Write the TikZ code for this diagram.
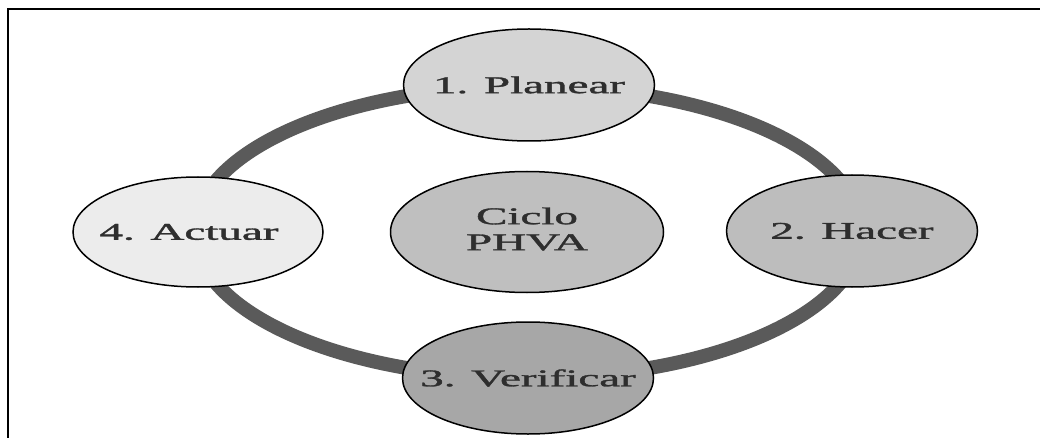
\documentclass[tikz,border=0pt]{standalone}
\usepackage{fontspec}
\setmainfont{Liberation Serif}
\newfontfamily\lblfont[FakeBold=1.2]{Liberation Serif}
\usetikzlibrary{shapes.geometric}
\definecolor{ringc}{HTML}{5A5A5A}
\definecolor{txtc}{HTML}{2E2E2E}
\definecolor{fillP}{HTML}{D4D4D4}
\definecolor{fillH}{HTML}{BDBDBD}
\definecolor{fillV}{HTML}{A7A7A7}
\definecolor{fillA}{HTML}{ECECEC}
\definecolor{fillC}{HTML}{BFBFBF}
\newcommand{\stretchtxt}[1]{\scalebox{1.96}[1]{#1}}
\begin{document}
\begin{tikzpicture}[x=1pt,y=-1pt,
  phase/.style={ellipse, draw=black, line width=1.5pt, inner sep=0pt,
    minimum width=251pt, minimum height=112pt},
  lbl/.style={text=txtc, inner sep=0pt, font=\lblfont\fontsize{24}{26}\selectfont},
  ring/.style={draw=ringc, line width=14pt},
  frame/.style={draw=black, line width=2pt}]
\useasboundingbox (0,0) rectangle (1040,438);
\fill[white] (0,0) rectangle (1040,438);
\coordinate (tl) at (8,9);
\coordinate (tr) at (1040,9);
\coordinate (bl) at (8,438);
\draw[frame] (tr) -- (tl) -- (bl);
\coordinate (c) at (528,232);
\draw[ring] (c) ellipse [x radius=333, y radius=146];
\node[phase, fill=fillP, label={[lbl]center:\stretchtxt{1. Planear}}] (plan) at (529,85) {};
\node[phase, fill=fillH, label={[lbl]center:\stretchtxt{2. Hacer}}] (hacer) at (852,231) {};
\node[phase, fill=fillV, label={[lbl]center:\stretchtxt{3. Verificar}}] (verif) at (528,378) {};
\node[phase, fill=fillA, minimum width=250pt, minimum height=110pt,
  label={[lbl, xshift=-9pt]center:\stretchtxt{4. Actuar}}] (act) at (198,232) {};
\node[phase, fill=fillC, minimum width=273pt, minimum height=121pt,
  label={[lbl]center:\stretchtxt{\begin{tabular}{@{}c@{}}Ciclo\\PHVA\end{tabular}}}] (ciclo) at (527,232) {};
\end{tikzpicture}
\end{document}
